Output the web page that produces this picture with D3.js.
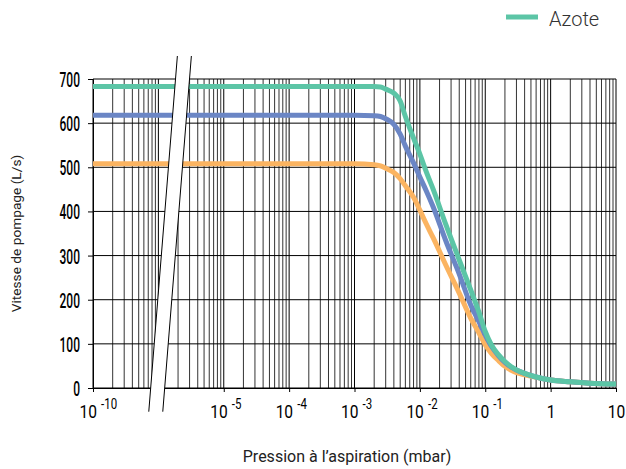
<!DOCTYPE html>
<html>
<head>
<meta charset="utf-8">
<script src="https://cdn.jsdelivr.net/npm/d3@7"></script>
<style>
  html, body { margin: 0; padding: 0; background: #fff; }
  svg { display: block; }
</style>
</head>
<body>
<svg id="chart" width="626" height="469"></svg>
<script>
// ---------- data ----------
const pressures = [1e-10, 1e-6, 1e-3, 2e-3, 2.5e-3, 3e-3, 4e-3, 5e-3, 6e-3, 8e-3, 1e-2, 1.25e-2, 1.6e-2, 2.5e-2, 4e-2, 6e-2, 8e-2, 0.1, 0.125, 0.16, 0.2, 0.25, 0.3, 0.4, 0.6, 1, 2, 4, 10];
const seriesNames = ["Série 1", "Série 2", "Azote"];
const orangeValues = [508, 508, 508, 506, 503, 498, 488, 474, 458, 432, 403, 372, 340, 278, 215, 158, 125, 98, 78, 62, 49, 40, 35, 30, 24, 18, 14, 11, 9];
const blueValues   = [618, 618, 618, 617, 615, 610, 597, 575, 548, 510, 478, 447, 410, 333, 258, 188, 150, 120, 94, 73, 58, 47, 41, 33, 25, 18, 14, 11, 9];
const greenValues  = [683, 683, 683, 683, 682, 677, 668, 650, 615, 566, 530, 490, 450, 370, 290, 222, 172, 128, 97, 75, 60, 48, 41, 33, 25, 18, 14, 11, 9];
const seriesColors = ["#fbb461", "#6b86c5", "#5cc5a6"];
const yTicks = [0, 100, 200, 300, 400, 500, 600, 700];
const xTickValues = [1e-10, 1e-5, 1e-4, 1e-3, 1e-2, 1e-1, 1, 10];
const xTickBases = ["10", "10", "10", "10", "10", "10", "1", "10"];
const xTickExps = ["-10", "-5", "-4", "-3", "-2", "-1", "", ""];
const gridDecades = [-10, -6, -5, -4, -3, -2, -1, 0];
const legendLabel = "Azote";
const xTitle = "Pression à l’aspiration (mbar)";
const yTitle = "Vitesse de pompage (L/s)";

// ---------- layout ----------
const svg = d3.select("#chart");
const L = 93, R = 616, T = 79, B = 388;
const dec = (R - L) / 8;

const x = d3.scaleLog()
  .domain([1e-10, 1e-9, 1e-6, 10])
  .range([L, L + dec, L + dec, R]);
const y = d3.scaleLinear().domain([0, 700]).range([B, T]);

// ---------- grid ----------
const gridVals = [];
gridDecades.forEach(d => {
  for (let k = 1; k <= 9; k++) gridVals.push({ v: k * Math.pow(10, d), major: k === 1 });
});
gridVals.push({ v: 10, major: true });

const grid = svg.append("g");
grid.selectAll("line.v").data(gridVals).enter().append("line")
  .attr("x1", d => x(d.v)).attr("x2", d => x(d.v))
  .attr("y1", T).attr("y2", B)
  .attr("stroke", d => d.major ? "#000" : "#333")
  .attr("stroke-width", 1);

grid.selectAll("line.h").data(yTicks).enter().append("line")
  .attr("x1", L).attr("x2", R)
  .attr("y1", d => y(d)).attr("y2", d => y(d))
  .attr("stroke", "#000").attr("stroke-width", 1);

// ---------- axes ----------
const yAxis = d3.axisLeft(y).tickValues(yTicks).tickSize(5).tickFormat(d3.format("d"));
const gy = svg.append("g").attr("transform", `translate(${L},0)`).call(yAxis);
gy.select(".domain").attr("stroke", "#000");
gy.selectAll(".tick line").attr("stroke", "#000");
gy.selectAll(".tick text").remove();
gy.selectAll(".tick").append("text")
  .attr("text-anchor", "end")
  .attr("transform", "translate(-13,7.5) scale(0.6,1)")
  .attr("font-family", "Roboto, sans-serif")
  .attr("font-weight", 500)
  .attr("font-size", 20)
  .attr("fill", "#000")
  .text(d => d);

const xAxis = d3.axisBottom(x).tickValues(xTickValues).tickSize(4).tickFormat("");
const gx = svg.append("g").attr("transform", `translate(0,${B})`).call(xAxis);
gx.select(".domain").attr("stroke", "#000").attr("d", `M${L},0.5H${R}`);
gx.selectAll(".tick line").attr("stroke", "#000");
gx.selectAll(".tick").each(function (d, i) {
  const g = d3.select(this);
  const hasExp = xTickExps[i] !== "";
  const t = g.append("text")
    .attr("text-anchor", hasExp ? "start" : "middle")
    .attr("transform", `translate(${hasExp ? -14 : 0},29.5) scale(0.82,1)`)
    .attr("font-family", "Roboto, sans-serif")
    .attr("font-weight", 400)
    .attr("font-size", 19)
    .attr("fill", "#000");
  t.append("tspan").text(xTickBases[i]);
  if (hasExp) {
    t.append("tspan").attr("dx", 5).attr("dy", -9).attr("font-size", 14).text(xTickExps[i]);
  }
});

// ---------- curves ----------
const series = [orangeValues, blueValues, greenValues];
const line = d3.line()
  .x((d, i) => x(pressures[i]))
  .y(d => y(d))
  .curve(d3.curveMonotoneX);

svg.append("g").selectAll("path").data(series).enter().append("path")
  .attr("d", d => line(d))
  .attr("fill", "none")
  .attr("stroke", (d, i) => seriesColors[i])
  .attr("stroke-width", 5)
  .attr("stroke-linejoin", "round");

// ---------- axis break ----------
const slope = -0.0804;
const bx = x(1e-9) - 0.7;
const yt = 56, yb = 411.7, hw = 7;
const cx = yy => bx + (yy - B) * slope;
const brk = svg.append("g");
brk.append("polygon")
  .attr("points", [[cx(yt) - hw, yt], [cx(yt) + hw, yt], [cx(yb) + hw, yb], [cx(yb) - hw, yb]].map(p => p.join(",")).join(" "))
  .attr("fill", "#fff");
[-hw, hw].forEach(o => {
  brk.append("line")
    .attr("x1", cx(yt) + o).attr("y1", yt)
    .attr("x2", cx(yb) + o).attr("y2", yb)
    .attr("stroke", "#000").attr("stroke-width", 1);
});

// ---------- titles ----------
svg.append("text")
  .attr("x", 347).attr("y", 462)
  .attr("text-anchor", "middle")
  .attr("font-family", "Roboto, sans-serif")
  .attr("font-size", 16)
  .attr("fill", "#222")
  .text(xTitle);

svg.append("text")
  .attr("transform", `translate(21,${(T + B) / 2}) rotate(-90)`)
  .attr("text-anchor", "middle")
  .attr("font-family", "Roboto, sans-serif")
  .attr("font-size", 13.7)
  .attr("fill", "#222")
  .text(yTitle);

// ---------- legend ----------
const lg = svg.append("g").attr("transform", "translate(506,17)");
lg.append("line").attr("x1", 0).attr("x2", 32).attr("y1", 0).attr("y2", 0)
  .attr("stroke", seriesColors[2]).attr("stroke-width", 5);
lg.append("text").attr("x", 43).attr("y", 9)
  .attr("font-family", "Roboto, sans-serif")
  .attr("font-weight", 300)
  .attr("font-size", 20)
  .attr("fill", "#333")
  .text(legendLabel);
</script>
</body>
</html>
